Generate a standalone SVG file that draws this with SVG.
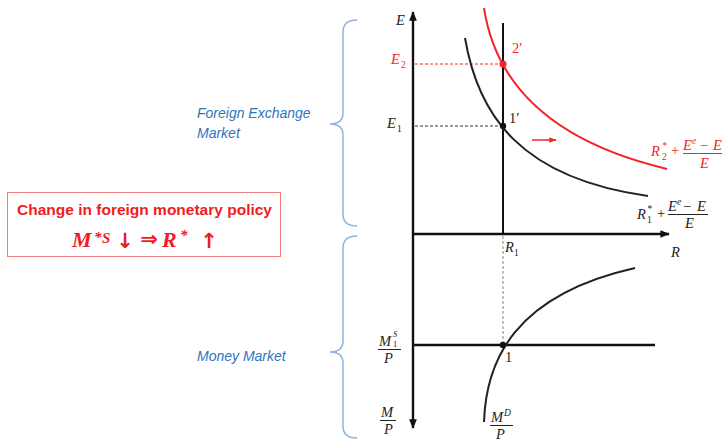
<svg xmlns="http://www.w3.org/2000/svg" width="722" height="443" viewBox="0 0 722 443">
<defs>
<style>
.ax{stroke:#111;stroke-width:2.4;fill:none}
.cv{stroke:#222;stroke-width:2;fill:none}
.rd{stroke:#f2262a;stroke-width:2;fill:none}
.br{stroke:#8fb3de;stroke-width:1.5;fill:none}
.m{font-family:"Liberation Serif","DejaVu Serif",serif;font-style:italic;font-size:14.5px;fill:#222}
.u{font-style:normal}
.s{font-size:9.5px}
.t{font-size:8.5px}
.r{fill:#f2262a}
.bl{font-family:"Liberation Sans",Arial,sans-serif;font-style:italic;font-size:14px;fill:#2e75c0}
.ar{font-family:"DejaVu Sans",sans-serif;font-weight:bold;font-style:normal;fill:#f01c22;font-size:21px}
</style>
<marker id="ah" viewBox="0 0 10 10" refX="9" refY="5" markerWidth="4" markerHeight="4" orient="auto-start-reverse"><path d="M0,1 L10,5 L0,9 z" fill="#111"/></marker>
<marker id="ahr" viewBox="0 0 10 10" refX="9" refY="5" markerWidth="5" markerHeight="5" orient="auto"><path d="M0,1.5 L10,5 L0,8.5 z" fill="#f2262a"/></marker>
</defs>
<rect width="722" height="443" fill="#fff"/>

<g id="braces">
<path class="br" d="M357,20 Q343,20 343,32 L343,113 Q343,124 330,124 Q343,124 343,135 L343,214 Q343,226 357,226"/>
<path class="br" d="M357,236 Q343,236 343,248 L343,341 Q343,352 330,352 Q343,352 343,363 L343,426 Q343,438 357,438"/>
</g>

<g id="market-labels">
<text class="bl" x="197" y="118">Foreign Exchange</text>
<text class="bl" x="197" y="138">Market</text>
<text class="bl" x="197" y="361">Money Market</text>
</g>

<g id="policy-box">
<rect x="7.5" y="192.5" width="273" height="64" fill="#fff" stroke="#f07f82" stroke-width="1"/>
<text x="144.5" y="215" text-anchor="middle" textLength="255" lengthAdjust="spacingAndGlyphs" font-family="'Liberation Sans',Arial,sans-serif" font-weight="bold" font-size="15.5" fill="#f01c22">Change in foreign monetary policy</text>
<g font-family="'Liberation Serif','DejaVu Serif',serif" font-weight="bold" fill="#f01c22">
<text x="72" y="247" font-size="22" font-style="italic">M</text>
<text x="94" y="242" font-size="15" font-style="italic">*</text>
<text x="102" y="243" font-size="15" font-style="italic">S</text>
<text class="ar" x="125" y="248" text-anchor="middle">↓</text>
<text class="ar" x="149" y="246" text-anchor="middle">⇒</text>
<text x="162" y="247" font-size="22" font-style="italic">R</text>
<text x="180" y="240" font-size="15" font-style="italic">*</text>
<text class="ar" x="209" y="248" text-anchor="middle">↑</text>
</g>
</g>

<g id="axes">
<line class="ax" x1="413" y1="233" x2="413" y2="12" marker-end="url(#ah)"/>
<line class="ax" x1="413" y1="233" x2="413" y2="428" marker-end="url(#ah)"/>
<line class="ax" x1="412" y1="234" x2="669" y2="234" marker-end="url(#ah)"/>
<line class="ax" x1="412" y1="345" x2="655" y2="345"/>
<line x1="503" y1="23" x2="503" y2="234" stroke="#111" stroke-width="2"/>
</g>

<g id="connectors">
<line x1="415" y1="64" x2="503" y2="64" stroke="#f2262a" stroke-width="1" stroke-dasharray="3,2"/>
<line x1="415" y1="126" x2="503" y2="126" stroke="#333" stroke-width="1" stroke-dasharray="3,2"/>
<line x1="503" y1="236" x2="503" y2="343" stroke="#888" stroke-width="1" stroke-dasharray="3,2"/>
<line x1="532" y1="140" x2="556" y2="140" stroke="#f2262a" stroke-width="1.5" marker-end="url(#ahr)"/>
</g>

<g id="curves">
<path class="cv" d="M465,38 C478,115 520,178 648,196"/>
<path class="rd" d="M484,8 C495,80 545,140 667,169"/>
<path class="cv" d="M484,422 C486,360 515,295 635,268"/>
</g>

<g id="points">
<circle cx="503" cy="126" r="3.2" fill="#111"/>
<circle cx="503" cy="64" r="3.6" fill="#f2262a"/>
<circle cx="503" cy="345" r="3.2" fill="#111"/>
</g>

<g id="labels">
<text class="m" x="396" y="25">E</text>
<text class="m r" x="391" y="64">E</text><text class="m s r u" x="401" y="68">2</text>
<text class="m" x="387" y="128">E</text><text class="m s u" x="397" y="132">1</text>
<text class="m r u" x="512" y="53">2′</text>
<text class="m u" x="509" y="123">1′</text>
<text class="m" x="505" y="252">R</text><text class="m s u" x="514" y="256">1</text>
<text class="m" x="671" y="257">R</text>
<text class="m u" x="505" y="362">1</text>

<text class="m r" x="651" y="156">R</text><text class="m s r" x="662" y="149">*</text><text class="m s r u" x="662" y="160">2</text>
<text class="m r u" x="671" y="155">+</text>
<text class="m r" x="683" y="150">E</text><text class="m s r" x="692" y="144">e</text><text class="m r u" x="700" y="150">−</text><text class="m r" x="713" y="150">E</text>
<line x1="683" y1="153.5" x2="730" y2="153.5" stroke="#f2262a" stroke-width="1"/>
<text class="m r" x="700" y="168">E</text>

<text class="m" x="637" y="219">R</text><text class="m s" x="647" y="212">*</text><text class="m s u" x="647" y="223">1</text>
<text class="m u" x="657" y="218">+</text>
<text class="m" x="668" y="211">E</text><text class="m s" x="677" y="205">e</text><text class="m u" x="683" y="211">−</text><text class="m" x="697" y="211">E</text>
<line x1="668" y1="214.5" x2="708" y2="214.5" stroke="#222" stroke-width="1"/>
<text class="m" x="685" y="228">E</text>

<text class="m" x="379" y="346">M</text><text class="m t" x="393" y="337">S</text><text class="m t u" x="393" y="346.5">1</text>
<line x1="378" y1="349.5" x2="401" y2="349.5" stroke="#222" stroke-width="1"/>
<text class="m" x="384" y="363">P</text>
<text class="m" x="381" y="417">M</text>
<line x1="380" y1="420.5" x2="396" y2="420.5" stroke="#222" stroke-width="1"/>
<text class="m" x="384" y="434">P</text>
<text class="m" x="491" y="422">M</text><text class="m s" x="504" y="416">D</text>
<line x1="490" y1="425.5" x2="513" y2="425.5" stroke="#222" stroke-width="1"/>
<text class="m" x="496" y="439">P</text>
</g>
</svg>
